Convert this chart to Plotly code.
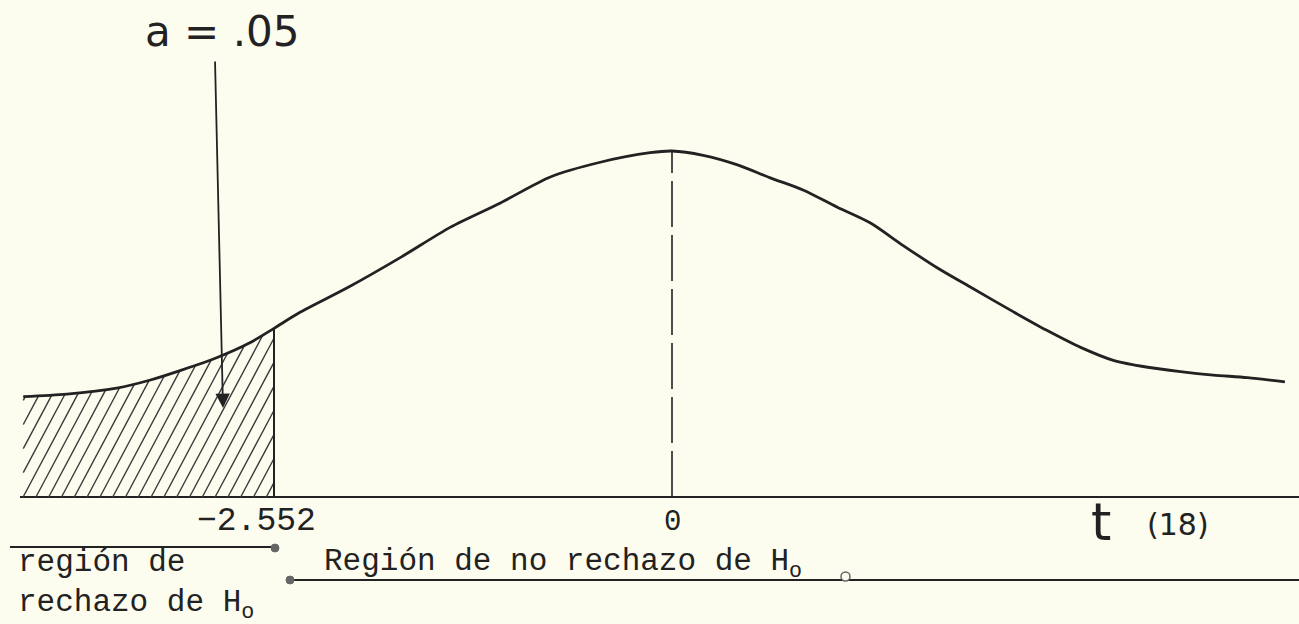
import math
import numpy as np
import plotly.graph_objects as go

# ---- data ----------------------------------------------------------------
t_vals = [-4.16, -3.88, -3.56, -3.35, -3.14, -2.92, -2.71, -2.552, -2.39, -2.07,
          -1.74, -1.42, -1.10, -0.78, -0.46, -0.14, 0.0, 0.20, 0.42, 0.63,
          0.84, 1.06, 1.27, 1.48, 1.70, 1.91, 2.19, 2.40, 2.62, 2.83,
          3.05, 3.26, 3.47, 3.69, 3.93]
density = [0.116, 0.119, 0.126, 0.135, 0.147, 0.161, 0.178, 0.195, 0.213, 0.243,
           0.277, 0.312, 0.340, 0.370, 0.387, 0.398, 0.400, 0.395, 0.384, 0.369,
           0.355, 0.335, 0.317, 0.291, 0.265, 0.243, 0.214, 0.193, 0.173, 0.158,
           0.150, 0.145, 0.141, 0.138, 0.133]
t_crit = -2.552
alpha_text = "a = .05"
crit_label = "−2.552"
zero_label = "0"
dist_label_t = "t"
dist_label_df = "(18)"
reject_label = "región de<br>rechazo de H<sub>o</sub>"
accept_label = "Región de no rechazo de H<sub>o</sub>"

# ---- layout geometry ------------------------------------------------------
W, H = 1299, 624
L = 20
ZERO_PX = 672
PX_PER_T = (672 - 274) / 2.552
BASE_PX = 497
PX_PER_D = 865.0
HATCH_STEP_PX = 12.8
HATCH_ANGLE = math.radians(62)


def px(x):
    return (x - L) / (W - L)


def py(y):
    return 1 - y / H


INK = "#222222"
BG = "#fdfdef"

crit_i = t_vals.index(t_crit)
peak_i = t_vals.index(0.0)
shade_t = np.array(t_vals[:crit_i + 1])
shade_d = np.array(density[:crit_i + 1])

# hatch lines clipped to the region under the curve (computed from the data)
hx, hy = [], []
t_left = shade_t[0]
x_left_px = t_left * PX_PER_T
x_right_px = t_crit * PX_PER_T
top_px = shade_d.max() * PX_PER_D
dxdy = 1 / math.tan(HATCH_ANGLE)
start = x_left_px - top_px * dxdy
k = 0
while True:
    x0 = start + k * HATCH_STEP_PX
    k += 1
    if x0 > x_right_px:
        break
    s = np.linspace(0, top_px / math.sin(HATCH_ANGLE), 1500)
    xs = x0 + s * math.cos(HATCH_ANGLE)
    ys = s * math.sin(HATCH_ANGLE)
    ts = xs / PX_PER_T
    ds = ys / PX_PER_D
    inside = (ts >= t_left) & (ts <= t_crit) & (ds <= np.interp(ts, shade_t, shade_d))
    idx = np.where(inside)[0]
    if len(idx) < 2:
        continue
    i0, i1 = idx[0], idx[-1]
    hx += [ts[i0], ts[i1], None]
    hy += [ds[i0], ds[i1], None]

fig = go.Figure()

fig.add_trace(go.Scatter(
    x=hx, y=hy, mode="lines", line=dict(color="#3a3a3a", width=1.4),
    hoverinfo="skip", showlegend=False, connectgaps=False))

# critical value line
fig.add_trace(go.Scatter(
    x=[t_crit, t_crit], y=[0, density[crit_i]], mode="lines",
    line=dict(color=INK, width=2), showlegend=False, hoverinfo="skip"))

# dashed centre line
fig.add_trace(go.Scatter(
    x=[0, 0], y=[0, density[peak_i]], mode="lines",
    line=dict(color=INK, width=1.6, dash="46px,8px"),
    showlegend=False, hoverinfo="skip"))

# the curve
fig.add_trace(go.Scatter(
    x=t_vals, y=density, mode="lines",
    line=dict(color=INK, width=2.8, shape="spline", smoothing=0.8),
    showlegend=False, hoverinfo="skip"))

x_lo = (L - ZERO_PX) / PX_PER_T
x_hi = (W - ZERO_PX) / PX_PER_T
y_lo = -(H - BASE_PX) / PX_PER_D
y_hi = BASE_PX / PX_PER_D

mono = dict(family="Liberation Mono", size=31, color=INK)

annotations = [
    dict(x=px(222), y=py(31), xref="paper", yref="paper", text=alpha_text,
         showarrow=False, font=dict(family="DejaVu Sans", size=42, color=INK),
         xanchor="center", yanchor="middle"),
    dict(x=px(223), y=py(408), xref="paper", yref="paper", text="",
         showarrow=True, ax=-8, ay=-348, axref="pixel", ayref="pixel",
         arrowhead=2, arrowsize=1.6, arrowwidth=1.8, arrowcolor=INK),
    dict(x=t_crit, y=py(521), xref="x", yref="paper", text=crit_label, xshift=-18,
         showarrow=False, font=dict(family="Liberation Mono", size=33, color=INK),
         xanchor="center", yanchor="middle"),
    dict(x=0, y=py(522), xref="x", yref="paper", text=zero_label,
         showarrow=False, font=dict(family="Liberation Mono", size=29, color=INK),
         xanchor="center", yanchor="middle"),
    dict(x=px(1101), y=py(522), xref="paper", yref="paper", text=dist_label_t,
         showarrow=False, font=dict(family="DejaVu Sans", size=52, color=INK),
         xanchor="center", yanchor="middle"),
    dict(x=px(1178), y=py(524), xref="paper", yref="paper", text=dist_label_df,
         showarrow=False, font=dict(family="DejaVu Sans", size=30, color=INK),
         xanchor="center", yanchor="middle"),
    dict(x=px(16), y=py(585), xref="paper", yref="paper", text=reject_label,
         showarrow=False, font=mono, xanchor="left", yanchor="middle", align="left"),
    dict(x=px(322), y=py(564), xref="paper", yref="paper", text=accept_label,
         showarrow=False, font=mono, xanchor="left", yanchor="middle"),
]

shapes = [
    dict(type="line", xref="paper", yref="paper", x0=px(10), x1=px(275),
         y0=py(547), y1=py(547), line=dict(color=INK, width=2)),
    dict(type="circle", xref="paper", yref="paper", x0=px(271), x1=px(279),
         y0=py(544), y1=py(552), fillcolor="#666", line=dict(color="#666", width=1)),
    dict(type="line", xref="paper", yref="paper", x0=px(290), x1=px(W),
         y0=py(580), y1=py(580), line=dict(color=INK, width=2)),
    dict(type="circle", xref="paper", yref="paper", x0=px(286), x1=px(294),
         y0=py(576), y1=py(584), fillcolor="#666", line=dict(color="#666", width=1)),
    dict(type="circle", xref="paper", yref="paper", x0=px(841), x1=px(850),
         y0=py(572), y1=py(581), fillcolor=BG, line=dict(color="#666", width=1.5)),
]

fig.update_layout(
    width=W, height=H,
    margin=dict(l=L, r=0, t=0, b=0),
    paper_bgcolor=BG, plot_bgcolor=BG,
    xaxis=dict(range=[x_lo, x_hi], showgrid=False, zeroline=False,
               showticklabels=False, showline=False, fixedrange=True),
    yaxis=dict(range=[y_lo, y_hi], showgrid=False, zeroline=True,
               zerolinecolor=INK, zerolinewidth=2,
               showticklabels=False, showline=False, fixedrange=True),
    annotations=annotations, shapes=shapes, showlegend=False,
)

fig.write_html("out.html", config={"displayModeBar": False},
               post_script="document.body.style.margin='0';"
                           "document.body.style.background='" + BG + "';")
